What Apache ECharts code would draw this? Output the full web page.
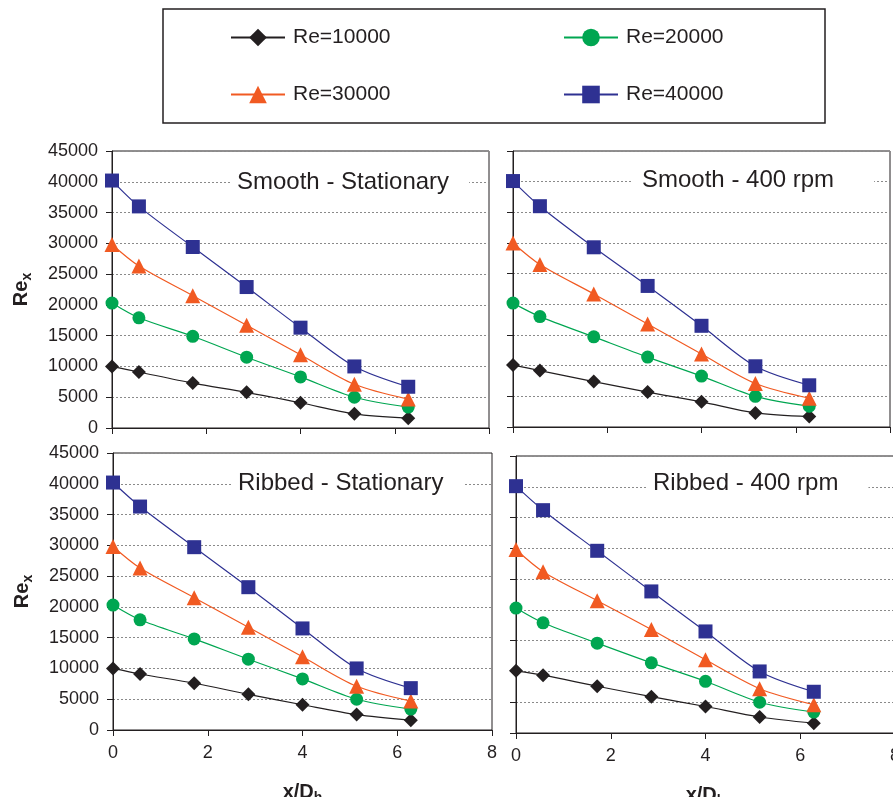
<!DOCTYPE html>
<html>
<head>
<meta charset="utf-8">
<title>Re_x along the channel</title>
<script src="https://cdn.jsdelivr.net/npm/echarts@6/dist/echarts.min.js"></script>
<style>
  html, body { margin: 0; padding: 0; background: #ffffff; }
  #chart { width: 893px; height: 797px; }
</style>
</head>
<body>
<div id="chart"></div>
<script>
// Measurement stations along the channel, x/D_h (same for every panel)
var xStations = [0, 0.571, 1.714, 2.857, 4.0, 5.143, 6.286];

var seriesNames = ["Re=10000", "Re=20000", "Re=30000", "Re=40000"];
var panelTitles = ["Smooth - Stationary", "Smooth - 400 rpm", "Ribbed - Stationary", "Ribbed - 400 rpm"];

// Re_x per panel, one row per inlet Re (10000, 20000, 30000, 40000)
var smoothStationary = [
  [10000, 9100, 7300, 5800, 4100, 2300, 1600],
  [20300, 17900, 14900, 11500, 8300, 5000, 3400],
  [29800, 26300, 21500, 16700, 11900, 7100, 4700],
  [40200, 36000, 29400, 22900, 16300, 10000, 6700]
];
var smooth400 = [
  [10100, 9200, 7400, 5700, 4100, 2300, 1700],
  [20200, 18000, 14700, 11400, 8300, 5000, 3400],
  [30000, 26500, 21700, 16800, 11900, 7100, 4700],
  [40100, 36000, 29300, 23000, 16500, 9900, 6800]
];
var ribbedStationary = [
  [10000, 9100, 7600, 5800, 4100, 2500, 1600],
  [20300, 17900, 14800, 11500, 8300, 5000, 3400],
  [29800, 26300, 21500, 16700, 11900, 7100, 4700],
  [40200, 36300, 29700, 23200, 16500, 10000, 6800]
];
var ribbed400 = [
  [10100, 9400, 7600, 5900, 4300, 2600, 1600],
  [20300, 17900, 14600, 11400, 8400, 5000, 3400],
  [29800, 26200, 21500, 16800, 11900, 7200, 4600],
  [40100, 36200, 29600, 23000, 16500, 10000, 6700]
];
var panels = [smoothStationary, smooth400, ribbedStationary, ribbed400];

// styling
var ink = "#231f20";
var colors = ["#231f20", "#00a651", "#f15a22", "#2e3192"];
var symbols = ["diamond", "circle", "triangle", "rect"];
var symbolSizes = [14, 13, 15, 14];

// pixel boxes of the four plot areas
var gridBoxes = [
  { left: 112, top: 151, width: 377, height: 277 },
  { left: 513, top: 151, width: 377, height: 276 },
  { left: 113, top: 453, width: 379, height: 277 },
  { left: 516, top: 456, width: 379, height: 277 }
];
// title boxes (white background hides the grid line behind the text)
var titleBoxes = [
  { left: 230, top: 167, padding: [3, 20, 3, 7] },
  { left: 633, top: 165, padding: [3, 40, 3, 9] },
  { left: 232, top: 468, padding: [3, 20, 3, 6] },
  { left: 647, top: 468, padding: [3, 30, 3, 6] }
];
var legendSpots = [
  { left: 230, top: 27 },
  { left: 563, top: 27 },
  { left: 230, top: 84 },
  { left: 563, top: 84 }
];

var nameRich = {
  a: { fontSize: 20, fontWeight: "bold", color: ink, verticalAlign: "top" },
  s: { fontSize: 14, fontWeight: "bold", color: ink, verticalAlign: "top", padding: [9, 0, 0, 0] }
};

function plainNumber(v) {
  return String(v);
}

var chart = echarts.init(document.getElementById("chart"));

var grid = [], xAxis = [], yAxis = [], title = [], series = [], legend = [];

panels.forEach(function (panel, p) {
  var isBottom = p >= 2;
  var isLeft = p % 2 === 0;
  var box = gridBoxes[p];

  grid.push({
    left: box.left, top: box.top, width: box.width, height: box.height,
    outerBoundsMode: "none",
    show: true, borderColor: ink, borderWidth: 1, backgroundColor: "transparent"
  });

  xAxis.push({
    type: "value", gridIndex: p, min: 0, max: 8, interval: 2,
    axisLine: { show: true, lineStyle: { color: ink, width: 1 } },
    axisTick: { show: true, inside: false, length: 6, lineStyle: { color: ink } },
    axisLabel: { show: isBottom, fontSize: 18, color: ink, margin: 14, formatter: plainNumber },
    splitLine: { show: false },
    name: isBottom ? "{a|x/D}{s|h}" : "",
    nameLocation: "middle",
    nameGap: 52,
    nameTextStyle: { rich: nameRich }
  });

  yAxis.push({
    type: "value", gridIndex: p, min: 0, max: 45000, interval: 5000,
    axisLine: { show: true, lineStyle: { color: ink, width: 1 } },
    axisTick: { show: true, inside: false, length: 6, lineStyle: { color: ink } },
    axisLabel: { show: isLeft, fontSize: 18, color: ink, margin: 14, formatter: plainNumber },
    splitLine: { show: true, lineStyle: { color: "#8a8a8a", type: [2, 2], width: 1 } },
    name: isLeft ? "{a|Re}{s|x}" : "",
    nameLocation: "middle",
    nameRotate: 90,
    nameGap: 78,
    nameTextStyle: { rich: nameRich }
  });

  title.push({
    text: panelTitles[p],
    left: titleBoxes[p].left, top: titleBoxes[p].top,
    padding: titleBoxes[p].padding,
    backgroundColor: "#ffffff",
    textStyle: { fontSize: 24, fontWeight: "normal", color: ink }
  });

  panel.forEach(function (values, k) {
    series.push({
      name: seriesNames[k],
      type: "line",
      xAxisIndex: p, yAxisIndex: p,
      data: xStations.map(function (x, i) { return [x, values[i]]; }),
      smooth: 0.3,
      symbol: symbols[k],
      symbolSize: symbolSizes[k],
      itemStyle: { color: colors[k], opacity: 1 },
      lineStyle: { color: colors[k], width: 1.2 },
      z: 2 + k
    });
  });
});

seriesNames.forEach(function (name, k) {
  legend.push({
    data: [name],
    left: legendSpots[k].left, top: legendSpots[k].top,
    padding: 0,
    itemWidth: 54, itemHeight: 22,
    selectedMode: false,
    textStyle: { fontSize: 21, color: ink, padding: [0, 0, 0, 3] }
  });
});

chart.setOption({
  animation: false,
  backgroundColor: "#ffffff",
  textStyle: { fontFamily: "Liberation Sans, Arial, sans-serif" },
  title: title,
  legend: legend,
  grid: grid,
  xAxis: xAxis,
  yAxis: yAxis,
  series: series,
  graphic: [{
    type: "rect",
    shape: { x: 163, y: 9, width: 662, height: 114 },
    style: { fill: "none", stroke: ink, lineWidth: 1.5 },
    z: 10
  }]
});
</script>
</body>
</html>
